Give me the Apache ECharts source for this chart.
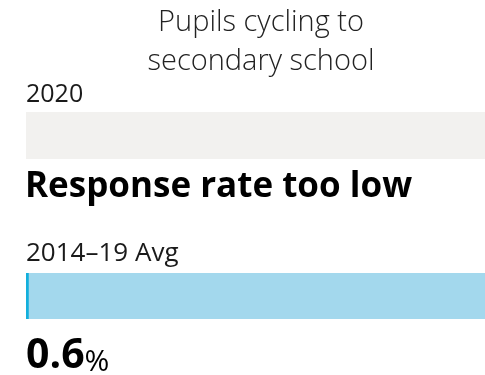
<!DOCTYPE html>
<html>
<head>
<meta charset="utf-8">
<script src="https://cdn.jsdelivr.net/npm/echarts@6/dist/echarts.min.js"></script>
<style>
  html, body { margin: 0; padding: 0; background: #fff; }
  #main { width: 485px; height: 375px; }
</style>
</head>
<body>
<div id="main"></div>
<script>
// data
var periods = ['2020', '2014–19 Avg'];
var values = [null, 0.6];          // 2020: response rate too low
var valueLabels = ['Response rate too low', '0.6'];
var axisMax = 100;

var FONT = 'Open Sans';

var chart = echarts.init(document.getElementById('main'));

var option = {
  animation: false,
  textStyle: { fontFamily: FONT },
  title: [
    {
      text: 'Pupils cycling to\nsecondary school',
      left: 261, top: 3, textAlign: 'center', padding: 0,
      textStyle: { fontFamily: FONT, fontSize: 29, fontWeight: 300, color: '#222', lineHeight: 39 }
    },
    {
      text: periods[0], left: 26, top: 82, padding: 0,
      textStyle: { fontFamily: FONT, fontSize: 25, fontWeight: 'normal', color: '#1a1a1a' }
    },
    {
      text: valueLabels[0], left: 25, top: 170, padding: 0,
      textStyle: { fontFamily: FONT, fontSize: 35, fontWeight: 'bold', color: '#000' }
    },
    {
      text: periods[1], left: 26, top: 241, padding: 0,
      textStyle: { fontFamily: FONT, fontSize: 26, fontWeight: 'normal', color: '#1a1a1a' }
    },
    {
      text: '{a|' + valueLabels[1] + '}{b|%}', left: 26, top: 336, padding: 0,
      textStyle: {
        rich: {
          a: { fontFamily: FONT, fontSize: 41, fontWeight: 'bold', color: '#000' },
          b: { fontFamily: FONT, fontSize: 30, lineHeight: 36, fontWeight: 'normal', color: '#000', verticalAlign: 'bottom' }
        }
      }
    }
  ],
  grid: [
    { left: 26, right: 0, top: 112, height: 47 },
    { left: 26, right: 0, top: 273, height: 46 }
  ],
  xAxis: [
    { type: 'value', gridIndex: 0, min: 0, max: axisMax, show: false },
    { type: 'value', gridIndex: 1, min: 0, max: axisMax, show: false }
  ],
  yAxis: [
    { type: 'category', gridIndex: 0, data: [periods[0]], show: false },
    { type: 'category', gridIndex: 1, data: [periods[1]], show: false }
  ],
  series: [
    {
      type: 'bar', xAxisIndex: 0, yAxisIndex: 0,
      data: [values[0]], barWidth: '100%',
      showBackground: true,
      backgroundStyle: { color: '#f2f1ef' },
      itemStyle: { color: '#a3d8ed' }
    },
    {
      type: 'bar', xAxisIndex: 1, yAxisIndex: 1,
      data: [values[1]], barWidth: '100%',
      showBackground: true,
      backgroundStyle: { color: '#a3d8ed' },
      itemStyle: { color: '#12afdc' }
    }
  ]
};

chart.setOption(option);
</script>
</body>
</html>
